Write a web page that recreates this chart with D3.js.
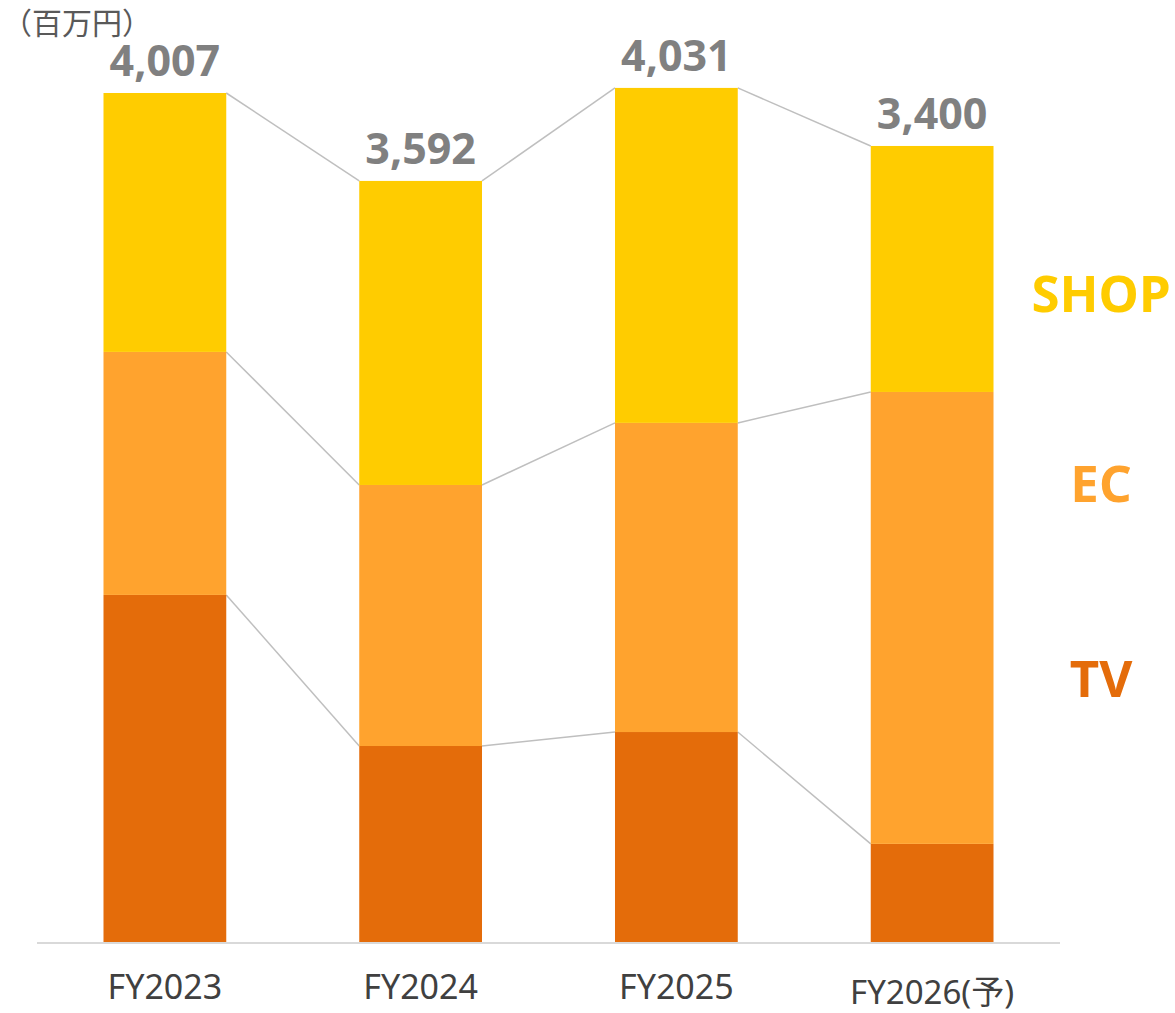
<!DOCTYPE html>
<html>
<head>
<meta charset="utf-8">
<script src="https://cdn.jsdelivr.net/npm/d3@7"></script>
<style>
  body { margin: 0; background: #fff; }
  svg { display: block; }
</style>
</head>
<body>
<script>
// Data (百万円)
const categories = ['FY2023', 'FY2024', 'FY2025', 'FY2026(予)'];
const tvValues = [1638, 925, 991, 463];
const ecValues = [1147, 1232, 1459, 2133];
const shopValues = [1222, 1435, 1581, 1161];
const totalLabels = ['4,007', '3,592', '4,031', '3,400'];
const seriesNames = ['TV', 'EC', 'SHOP'];
const seriesColors = ['#E46C0A', '#FFA32E', '#FFCC00'];

const W = 1175, H = 1013;
const baseline = 942;

const svg = d3.select('body')
  .append('svg')
  .attr('width', W)
  .attr('height', H);

const rows = categories.map((c, i) => ({
  category: c, TV: tvValues[i], EC: ecValues[i], SHOP: shopValues[i]
}));

const stack = d3.stack().keys(seriesNames);
const stacked = stack(rows);

const x = d3.scaleBand()
  .domain(categories)
  .range([37, 1060])
  .paddingInner(0.52)
  .paddingOuter(0.26);

const y = d3.scaleLinear()
  .domain([0, 4007])
  .range([baseline, 93]);

const color = d3.scaleOrdinal().domain(seriesNames).range(seriesColors);

// connector lines between bar segment tops
const connectors = svg.append('g')
  .attr('stroke', '#BFBFBF')
  .attr('stroke-width', 1.5)
  .attr('fill', 'none');

stacked.forEach(layer => {
  for (let i = 0; i < layer.length - 1; i++) {
    connectors.append('line')
      .attr('x1', x(categories[i]) + x.bandwidth())
      .attr('y1', y(layer[i][1]))
      .attr('x2', x(categories[i + 1]))
      .attr('y2', y(layer[i + 1][1]));
  }
});

// bars
svg.append('g')
  .selectAll('g')
  .data(stacked)
  .join('g')
  .attr('fill', d => color(d.key))
  .selectAll('rect')
  .data(d => d)
  .join('rect')
  .attr('x', d => x(d.data.category))
  .attr('y', d => y(d[1]))
  .attr('width', x.bandwidth())
  .attr('height', d => y(d[0]) - y(d[1]));

// baseline
svg.append('line')
  .attr('x1', 37)
  .attr('x2', 1060)
  .attr('y1', baseline + 1)
  .attr('y2', baseline + 1)
  .attr('stroke', '#D9D9D9')
  .attr('stroke-width', 2);

// total labels
const topLayer = stacked[stacked.length - 1];
svg.append('g')
  .selectAll('text')
  .data(topLayer)
  .join('text')
  .attr('x', d => x(d.data.category) + x.bandwidth() / 2)
  .attr('y', d => y(d[1]) - 17)
  .attr('text-anchor', 'middle')
  .attr('font-family', '"Noto Sans", sans-serif')
  .attr('font-weight', 'bold')
  .attr('font-size', 43)
  .attr('fill', '#808080')
  .text((d, i) => totalLabels[i]);

// category labels
svg.append('g')
  .selectAll('text')
  .data(categories)
  .join('text')
  .attr('x', d => x(d) + x.bandwidth() / 2)
  .attr('y', (d, i) => i === categories.length - 1 ? 1004 : 999)
  .attr('text-anchor', 'middle')
  .attr('font-family', '"Noto Sans", "Noto Sans CJK JP", sans-serif')
  .attr('font-size', (d, i) => i === categories.length - 1 ? 33 : 34)
  .attr('fill', '#404040')
  .text(d => d);

// unit label
svg.append('text')
  .attr('x', 2)
  .attr('y', 34)
  .attr('font-family', '"Noto Sans CJK JP", sans-serif')
  .attr('font-size', 30)
  .attr('fill', '#595959')
  .text('（百万円）');

// series labels on the right
const legendY = { SHOP: 312, EC: 502, TV: 697 };
svg.append('g')
  .selectAll('text')
  .data(seriesNames)
  .join('text')
  .attr('x', 1101)
  .attr('y', d => legendY[d])
  .attr('text-anchor', 'middle')
  .attr('font-family', '"Noto Sans", sans-serif')
  .attr('font-weight', 'bold')
  .attr('font-size', 51)
  .attr('fill', d => color(d))
  .text(d => d);
</script>
</body>
</html>
